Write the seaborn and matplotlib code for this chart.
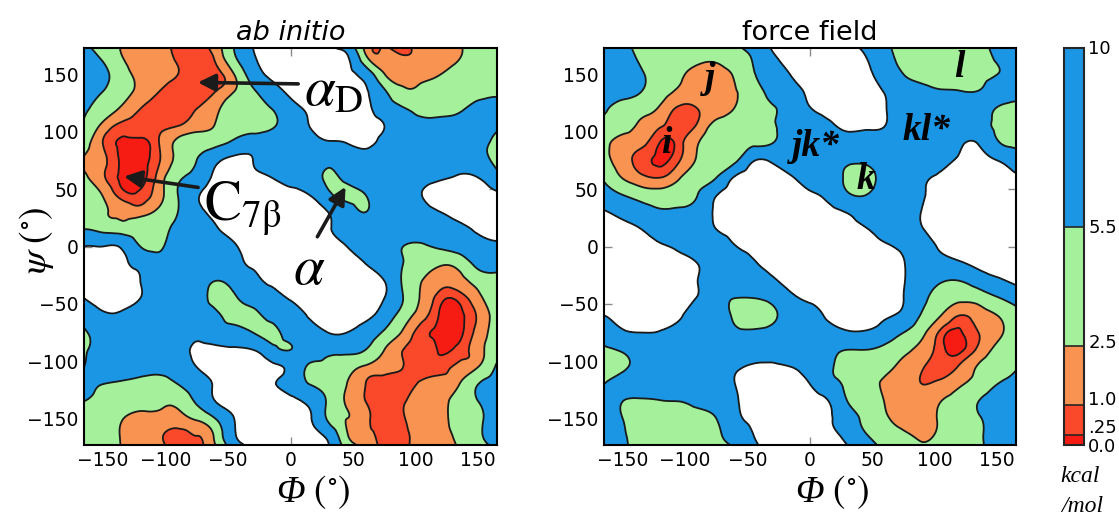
import numpy as np
import matplotlib
matplotlib.use("Agg")
import matplotlib.pyplot as plt
from matplotlib.tri import Triangulation, UniformTriRefiner
import matplotlib.transforms as mtrans
import seaborn as sns

# ---------------- data (kcal/mol) ----------------
PHI_DEG = [-165, -150, -135, -120, -105, -90, -75, -60, -45, -30, -15, 0,
           15, 30, 45, 60, 75, 90, 105, 120, 135, 150, 165]
PSI_DEG = [180, 165, 150, 135, 120, 105, 90, 75, 60, 45, 30, 15, 0,
           -15, -30, -45, -60, -75, -90, -105, -120, -135, -150, -165, -180]

E_AB_INITIO = [
    [5.2, 4.0, 2.5, 2.0, 1.6, 0.6, 0.7, 2.0, 5.5, 10.5, 12.0, 12.5, 12.0, 10.0, 5.5, 2.5, 0.7, 0.6, 1.6, 1.8, 2.5, 4.0, 5.0],
    [7.0, 5.0, 2.6, 2.0, 1.8, 0.8, 0.6, 1.2, 5.0, 9.5, 12.0, 12.5, 12.5, 11.5, 10.5, 3.0, 1.3, 1.1, 1.3, 1.6, 2.4, 4.0, 4.5],
    [7.5, 6.5, 3.5, 2.2, 1.6, 1.0, 0.5, 0.7, 2.5, 7.5, 11.0, 12.5, 13.0, 12.5, 11.0, 8.0, 2.6, 1.8, 2.0, 2.5, 3.5, 4.0, 4.5],
    [7.0, 5.5, 3.5, 2.0, 1.0, 0.5, 0.5, 1.0, 2.5, 5.0, 8.0, 11.0, 12.5, 13.0, 12.0, 10.5, 6.0, 3.0, 3.0, 3.5, 4.0, 4.5, 5.0],
    [6.0, 4.0, 2.2, 1.0, 0.5, 0.5, 1.0, 2.0, 4.0, 4.0, 5.5, 8.5, 10.5, 12.0, 12.5, 11.0, 8.0, 5.8, 4.5, 4.5, 5.0, 6.5, 6.5],
    [5.0, 2.0, 0.7, 0.6, 0.7, 1.0, 1.8, 2.6, 4.0, 4.0, 5.0, 8.0, 10.0, 12.0, 12.5, 11.5, 10.0, 7.5, 6.5, 6.5, 7.0, 7.0, 6.0],
    [3.5, 1.0, 0.15, 0.1, 1.0, 3.0, 4.0, 4.5, 6.5, 8.0, 8.0, 8.0, 8.5, 9.5, 10.0, 11.0, 8.5, 7.5, 7.0, 7.0, 7.0, 6.5, 4.5],
    [2.3, 1.3, 0.15, 0.1, 0.9, 3.2, 5.5, 9.0, 11.0, 10.0, 8.0, 7.5, 7.0, 6.5, 7.5, 8.0, 8.0, 7.5, 7.0, 8.0, 8.0, 7.0, 4.5],
    [3.0, 1.2, 0.15, 0.1, 1.5, 4.8, 7.0, 11.0, 12.0, 11.0, 10.0, 8.0, 7.0, 5.0, 6.5, 7.5, 8.0, 8.0, 8.5, 9.5, 10.5, 10.0, 7.0],
    [4.5, 2.4, 0.6, 0.4, 1.8, 5.5, 9.5, 12.0, 13.0, 13.0, 12.0, 11.5, 10.0, 6.5, 4.5, 5.5, 7.5, 8.0, 10.0, 12.0, 12.0, 11.5, 10.5],
    [4.5, 2.8, 2.0, 1.8, 3.0, 5.5, 9.0, 11.0, 13.0, 13.0, 13.0, 12.0, 11.5, 10.0, 7.5, 5.5, 7.5, 8.0, 8.5, 10.0, 11.5, 11.5, 10.5],
    [5.5, 4.5, 4.0, 4.0, 4.5, 6.5, 8.0, 9.5, 12.0, 13.0, 13.0, 13.0, 12.0, 10.5, 8.0, 7.0, 6.5, 7.5, 7.5, 8.0, 9.0, 10.5, 10.5],
    [10.0, 10.0, 9.5, 5.5, 5.0, 7.0, 7.5, 8.0, 9.5, 12.0, 13.0, 13.0, 12.5, 11.5, 10.0, 8.0, 6.5, 5.5, 5.0, 6.0, 7.0, 8.5, 9.5],
    [11.0, 11.0, 10.5, 9.0, 7.0, 7.5, 7.5, 8.0, 9.0, 10.5, 12.0, 13.0, 13.0, 12.0, 11.0, 10.0, 7.5, 5.5, 3.5, 2.8, 3.5, 6.5, 7.0],
    [11.0, 12.0, 11.0, 10.0, 8.0, 7.5, 7.5, 5.5, 7.0, 9.0, 11.0, 12.5, 13.0, 13.0, 12.0, 11.0, 10.0, 5.0, 2.5, 1.5, 1.8, 3.5, 4.5],
    [10.0, 11.0, 11.0, 10.0, 8.0, 7.5, 7.0, 4.5, 5.0, 7.0, 8.0, 10.5, 12.0, 13.0, 12.5, 11.5, 10.0, 5.5, 2.2, 0.5, 0.5, 2.0, 4.0],
    [7.5, 9.5, 9.5, 8.5, 7.5, 7.0, 7.0, 6.0, 4.5, 4.5, 6.5, 7.5, 10.5, 12.0, 12.0, 11.0, 8.0, 4.0, 1.5, 0.15, 0.1, 1.2, 3.5],
    [5.0, 7.0, 8.0, 8.0, 7.5, 8.0, 9.0, 7.5, 7.0, 5.5, 4.5, 7.0, 8.0, 10.0, 10.0, 8.0, 5.0, 2.2, 0.5, 0.1, 0.1, 1.5, 3.5],
    [5.0, 7.0, 8.0, 8.0, 8.0, 9.0, 10.5, 11.0, 10.5, 10.0, 7.0, 5.5, 7.0, 6.5, 6.5, 5.5, 2.5, 1.0, 0.5, 0.2, 0.5, 1.8, 4.0],
    [5.5, 7.0, 7.5, 7.0, 6.5, 7.5, 10.0, 12.0, 12.0, 11.5, 10.5, 9.0, 5.0, 4.5, 3.5, 2.2, 1.5, 1.0, 0.5, 0.6, 1.3, 2.5, 6.0],
    [6.5, 5.5, 5.0, 4.5, 4.5, 5.5, 7.5, 10.5, 12.0, 12.0, 10.5, 8.5, 5.5, 4.0, 2.5, 1.0, 0.5, 0.6, 1.2, 1.5, 2.5, 5.5, 6.5],
    [5.5, 4.5, 3.5, 3.2, 3.0, 3.2, 6.0, 10.0, 12.0, 12.5, 12.0, 11.0, 9.0, 5.0, 2.3, 1.0, 0.5, 0.9, 1.5, 2.0, 3.5, 5.5, 7.0],
    [4.0, 3.5, 2.6, 2.0, 2.0, 1.8, 2.8, 5.5, 10.0, 12.0, 12.0, 11.5, 10.5, 5.0, 2.5, 1.3, 0.55, 0.9, 1.6, 2.0, 3.5, 5.0, 7.0],
    [4.0, 3.5, 2.4, 1.8, 1.2, 0.6, 1.0, 3.0, 9.5, 11.5, 12.0, 12.0, 11.0, 9.0, 2.8, 1.3, 0.55, 0.7, 1.5, 2.0, 3.0, 5.0, 7.0],
    [5.2, 4.0, 2.5, 2.0, 1.6, 0.6, 0.7, 2.0, 5.5, 10.5, 12.0, 12.5, 12.0, 10.0, 5.5, 2.5, 0.7, 0.6, 1.6, 1.8, 2.5, 4.0, 5.0],
]

E_FORCE_FIELD = [
    [7.0, 6.0, 4.5, 4.0, 4.0, 4.0, 4.5, 5.2, 8.5, 10.5, 12.0, 12.5, 12.0, 11.0, 8.0, 5.5, 4.5, 3.0, 4.0, 4.5, 5.0, 6.5, 7.5],
    [7.0, 6.5, 5.0, 4.0, 3.5, 3.0, 3.0, 4.0, 6.0, 9.5, 11.0, 12.0, 11.5, 11.0, 10.0, 6.5, 5.0, 4.0, 3.5, 3.5, 4.0, 6.0, 7.0],
    [7.5, 7.0, 5.8, 4.0, 2.8, 2.0, 1.8, 2.8, 5.3, 7.5, 10.2, 12.0, 12.5, 12.0, 11.0, 8.0, 5.5, 4.5, 4.0, 4.0, 4.5, 5.5, 7.0],
    [7.0, 6.5, 5.5, 3.5, 2.2, 1.5, 1.5, 2.4, 4.0, 6.5, 8.0, 11.0, 12.0, 12.0, 11.5, 9.8, 7.5, 6.5, 5.8, 5.6, 5.6, 7.0, 7.0],
    [6.0, 4.5, 3.5, 2.2, 0.8, 1.0, 1.5, 2.6, 4.0, 5.3, 7.0, 9.8, 11.0, 11.5, 11.5, 10.2, 8.0, 7.5, 7.5, 7.0, 7.0, 5.3, 4.5],
    [4.5, 3.5, 2.0, 1.1, 0.6, 1.2, 3.2, 4.0, 4.5, 5.3, 7.0, 8.0, 9.5, 10.5, 10.5, 10.0, 8.0, 8.0, 8.0, 7.5, 7.0, 5.0, 4.5],
    [3.5, 1.5, 1.2, 0.2, 0.6, 2.4, 4.0, 4.5, 4.8, 5.5, 7.5, 8.0, 8.5, 8.5, 8.0, 8.0, 7.5, 8.0, 8.5, 9.5, 9.8, 6.0, 5.0],
    [3.3, 1.5, 0.6, 0.1, 0.9, 2.8, 4.0, 4.8, 9.8, 9.3, 8.0, 7.0, 6.5, 6.0, 6.0, 7.0, 7.5, 8.0, 9.0, 10.5, 11.0, 10.0, 7.5],
    [5.0, 2.4, 1.3, 1.0, 2.3, 4.0, 5.5, 10.5, 12.0, 12.0, 10.3, 8.3, 7.0, 5.0, 4.5, 6.5, 7.5, 9.5, 10.5, 12.0, 12.0, 11.5, 10.5],
    [7.5, 5.5, 4.0, 3.5, 4.0, 5.5, 9.8, 12.0, 13.0, 13.0, 12.0, 10.6, 9.0, 6.0, 5.5, 7.0, 8.0, 9.8, 11.0, 12.5, 12.5, 12.0, 11.0],
    [10.3, 9.0, 7.5, 6.0, 6.0, 7.0, 10.8, 12.5, 13.0, 13.0, 13.0, 12.5, 11.0, 9.8, 8.0, 7.0, 7.5, 10.2, 12.0, 13.0, 13.0, 12.5, 11.5],
    [12.0, 11.0, 10.0, 8.5, 7.5, 7.5, 10.0, 11.5, 13.0, 13.0, 13.0, 13.0, 12.5, 11.3, 10.2, 8.2, 7.5, 9.8, 11.5, 12.5, 13.0, 12.5, 11.5],
    [12.5, 12.5, 11.5, 10.3, 9.5, 8.0, 7.5, 9.8, 11.5, 12.5, 13.0, 13.0, 13.0, 12.5, 11.7, 10.6, 9.0, 8.5, 10.5, 11.5, 12.0, 11.5, 11.0],
    [12.5, 13.0, 12.5, 11.5, 10.8, 10.0, 7.5, 7.5, 9.5, 11.5, 12.5, 13.0, 13.0, 12.5, 12.0, 12.0, 10.2, 8.0, 8.5, 9.5, 10.8, 11.2, 11.8],
    [12.0, 12.5, 12.5, 12.0, 11.0, 10.0, 7.5, 7.0, 7.5, 9.3, 11.5, 12.5, 13.0, 13.0, 12.5, 12.0, 10.2, 7.5, 5.8, 5.5, 7.5, 9.3, 10.8],
    [11.0, 12.0, 12.0, 11.5, 11.0, 9.8, 7.0, 5.5, 5.5, 6.5, 9.0, 10.7, 11.5, 12.5, 12.5, 12.0, 10.0, 6.5, 3.8, 3.0, 3.5, 5.2, 7.0],
    [10.0, 11.0, 11.5, 11.0, 10.5, 8.0, 7.0, 5.0, 4.0, 5.0, 7.0, 8.7, 10.6, 12.0, 12.0, 10.5, 9.0, 5.0, 2.5, 1.0, 1.6, 2.5, 4.5],
    [7.5, 9.5, 10.0, 9.8, 8.5, 7.5, 7.0, 6.0, 6.0, 6.5, 7.5, 8.0, 8.4, 9.5, 9.5, 8.0, 5.5, 3.0, 0.7, 0.15, 1.0, 2.0, 4.0],
    [5.0, 6.0, 7.5, 8.0, 7.5, 7.0, 7.0, 7.5, 8.0, 8.5, 8.0, 7.5, 6.5, 5.5, 5.5, 4.5, 3.0, 1.8, 0.5, 0.1, 1.3, 3.0, 4.5],
    [4.5, 5.0, 7.0, 8.0, 8.0, 8.0, 8.5, 9.5, 10.5, 10.5, 10.0, 8.5, 6.0, 4.5, 3.5, 3.0, 2.0, 1.1, 0.5, 1.2, 2.7, 4.0, 5.3],
    [5.5, 6.5, 7.5, 7.5, 7.5, 7.5, 8.0, 10.0, 12.0, 12.0, 11.5, 10.0, 7.0, 5.0, 3.5, 2.2, 1.5, 1.0, 1.4, 2.3, 3.5, 5.5, 6.5],
    [7.0, 5.5, 5.0, 5.3, 5.5, 6.5, 7.5, 9.5, 12.0, 12.5, 12.5, 11.5, 10.0, 5.5, 4.5, 2.4, 1.5, 1.5, 2.5, 3.5, 5.5, 7.0, 7.5],
    [7.5, 5.5, 4.0, 3.5, 3.8, 4.0, 5.5, 9.0, 11.0, 12.5, 12.5, 12.0, 10.5, 7.5, 4.5, 2.8, 1.8, 1.8, 2.8, 4.0, 5.2, 7.0, 7.5],
    [7.5, 5.8, 4.5, 4.0, 4.0, 4.0, 5.0, 7.0, 10.0, 12.0, 12.5, 12.0, 11.0, 9.0, 5.8, 4.0, 3.0, 2.2, 3.0, 4.0, 5.0, 7.0, 7.5],
    [7.0, 6.0, 4.5, 4.0, 4.0, 4.0, 4.5, 5.2, 8.5, 10.5, 12.0, 12.5, 12.0, 11.0, 8.0, 5.5, 4.5, 3.0, 4.0, 4.5, 5.0, 6.5, 7.5],
]

LEVELS = [0.0, 0.25, 1.0, 2.5, 5.5, 10.0]
LEVEL_LABELS = ["0.0", ".25", "1.0", "2.5", "5.5", "10"]
LABEL_SHIFT_PT = [-1.5, 5.0, 3.5, 2.0, -1.0, -1.0]
BAND_COLORS = ["#f61c14", "#f9492a", "#f99352", "#a5f09b", "#1b96e4"]
TICKS = [-150, -100, -50, 0, 50, 100, 150]
TITLES = ["ab initio", "force field"]

# ---------------- style ----------------
sns.set_theme(style="ticks")
plt.rcParams["font.family"] = ["DejaVu Sans"]
plt.rcParams["mathtext.fontset"] = "stix"
plt.rcParams["text.color"] = "black"
plt.rcParams["axes.labelcolor"] = "black"

W, H = 1119, 517
fig = plt.figure(figsize=(W / 100, H / 100), dpi=100)
fig.patch.set_facecolor("white")


def fx(px):
    return px / W


def fy(py):
    return 1 - py / H


ax1 = fig.add_axes([fx(84), fy(445), fx(497) - fx(84), fy(48) - fy(445)])
ax2 = fig.add_axes([fx(604), fy(445), fx(1016) - fx(604), fy(48) - fy(445)])
cax = fig.add_axes([fx(1064), fy(445), fx(1084) - fx(1064), fy(48) - fy(445)])

# regular triangulation of the (phi, psi) grid
phi = np.array(PHI_DEG, float)
psi = np.array(PSI_DEG, float)
P, S = np.meshgrid(phi, psi)
nrow, ncol = P.shape
tris = []
for i in range(nrow - 1):
    for j in range(ncol - 1):
        a, b = i * ncol + j, i * ncol + j + 1
        c, d = (i + 1) * ncol + j, (i + 1) * ncol + j + 1
        if (i + j) % 2 == 0:
            tris += [[a, b, d], [a, d, c]]
        else:
            tris += [[a, b, c], [b, d, c]]
tri = Triangulation(P.ravel(), S.ravel(), triangles=np.array(tris))
refiner = UniformTriRefiner(tri)

cf = None
for ax, E, title in zip([ax1, ax2], [E_AB_INITIO, E_FORCE_FIELD], TITLES):
    Z = np.array(E, float).ravel()
    tri_r, z_r = refiner.refine_field(Z, subdiv=4)
    z_r = np.clip(z_r, 0.01, 30)
    ax.set_facecolor("white")
    cf = ax.tricontourf(tri_r, z_r, levels=LEVELS, colors=BAND_COLORS)
    ax.tricontour(tri_r, z_r, levels=LEVELS[1:], colors="k", linewidths=1.3)
    ax.set_xlim(-165, 165)
    ax.set_ylim(-173, 173)
    ax.set_xticks(TICKS)
    ax.set_yticks(TICKS)
    ax.tick_params(direction="in", length=6, width=1, color="#8a8a8a",
                   top=True, right=True, labelsize=13.5, pad=4, labelcolor="black")
    for sp in ax.spines.values():
        sp.set_linewidth(1.5)
        sp.set_color("black")
        sp.set_zorder(5)
    ax.set_title(title, fontsize=19.5, color="black",
                 style="italic" if title == "ab initio" else "normal", pad=6)
    ax.set_xlabel("Φ $(^{\\circ})$", fontsize=27, family="Liberation Serif",
                  style="italic")
    ax.xaxis.set_label_coords(0.555, -0.07)

fig.text(fx(36), fy(240), r"$\psi\ (^{\circ})$", fontsize=27, rotation=90,
         ha="center", va="center")

# annotations, left panel
arrow_kw = dict(arrowstyle="-|>", lw=2.6, color="k", mutation_scale=26, shrinkA=2, shrinkB=0)
ax1.annotate(r"$\alpha_{\mathrm{D}}$", xy=(-74, 143), xytext=(11, 136),
             fontsize=40, ha="left", va="center",
             arrowprops=dict(arrow_kw, relpos=(0.0, 0.62)))
ax1.annotate(r"$\mathrm{C}_{\mathrm{7\beta}}$", xy=(-133, 61), xytext=(-69, 33),
             fontsize=40, ha="left", va="center",
             arrowprops=dict(arrow_kw, relpos=(0.0, 0.85)))
ax1.annotate(r"$\alpha$", xy=(44, 52), xytext=(15, -20),
             fontsize=40, ha="center", va="center",
             arrowprops=dict(arrow_kw, relpos=(0.65, 1.0)))

# labels, right panel
ff_font = dict(family="Liberation Serif", weight="bold", style="italic", fontsize=27,
               ha="center", va="center")
for txt, (px, py) in zip(["i", "j", "jk*", "k", "kl*", "l"],
                         [(-115, 90), (-80, 146), (5, 87), (45, 58), (93, 101), (120, 156)]):
    ax2.text(px, py, txt, **ff_font)

# colour bar
cb = fig.colorbar(cf, cax=cax, spacing="proportional", ticks=LEVELS, drawedges=True)
cb.ax.set_yticklabels([])
cb.ax.tick_params(length=0)
cb.outline.set_linewidth(1.5)
cb.dividers.set_linewidth(1.2)
lab_tr = mtrans.blended_transform_factory(cax.transAxes, cax.transData)
for lev, lab, dy in zip(LEVELS, LEVEL_LABELS, LABEL_SHIFT_PT):
    cax.annotate(lab, xy=(1.0, lev), xycoords=lab_tr, xytext=(3, dy),
                 textcoords="offset points", fontsize=13, ha="left", va="center")
fig.text(fx(1080), fy(476), "kcal", fontsize=17, family="Liberation Serif",
         style="italic", ha="center", va="center")
fig.text(fx(1082), fy(506), "/mol", fontsize=17, family="Liberation Serif",
         style="italic", ha="center", va="center")

fig.savefig("out.png", dpi=100, facecolor="white")
